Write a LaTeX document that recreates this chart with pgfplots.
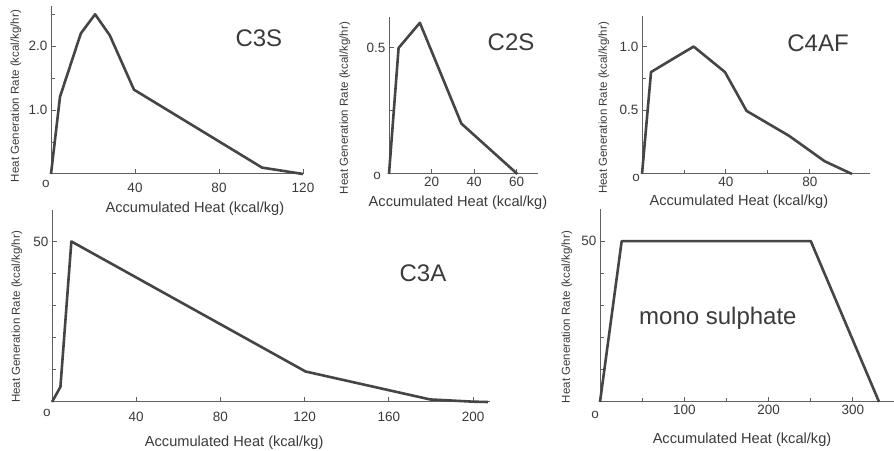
\documentclass[border=0pt]{standalone}
\usepackage{fontspec}
\setmainfont{Liberation Sans}
\usepackage{pgfplots}
\pgfplotsset{compat=1.18}
\definecolor{ink}{HTML}{454545}
\definecolor{axc}{HTML}{606060}
\definecolor{txt}{HTML}{3A3A3A}
\pgfplotsset{
 hgr/.style={
  scale only axis,
  axis x line=bottom, axis y line=left,
  axis line style={-, axc, line width=1bp},
  tick style={axc, line width=1bp},
  tick align=inside,
  major tick length=5bp, minor tick length=4bp,
  ymin=0, xmin=0,
  ticklabel style={font=\fontsize{13.5bp}{15bp}\selectfont, text=txt},
  /pgf/number format/assume math mode=true,
  xlabel={Accumulated Heat (kcal/kg)},
  ylabel={Heat Generation Rate (kcal/kg/hr)},
  label style={text=txt},
  xlabel style={font=\fontsize{14.6bp}{16bp}\selectfont, anchor=center},
  ylabel style={font=\fontsize{11.5bp}{13bp}\selectfont, anchor=center},
  clip=false,
 },
 curve/.style={ink, line width=2.6bp, line join=round, no marks},
}
\tikzset{
 ttl/.style={font=\fontsize{24bp}{26bp}\selectfont, text=txt},
 zro/.style={font=\fontsize{13.5bp}{15bp}\selectfont, text=txt},
}
\begin{document}
\begin{tikzpicture}[x=1bp,y=1bp]
\useasboundingbox (0,0) rectangle (894,451);
% C3S
\begin{axis}[hgr, at={(51bp,277bp)}, anchor=south west, width=252bp, height=168bp,
  xmax=120, ymax=2.63,
  xtick={40,80,120}, ytick={1,2}, minor ytick={0.5,1.5,2.5},
  yticklabel style={/pgf/number format/fixed, /pgf/number format/fixed zerofill, /pgf/number format/precision=1},
  xticklabel style={yshift=-6bp},
  xlabel style={at={(axis description cs:0.571,0)}, yshift=-35bp},
  ylabel style={at={(axis description cs:0,0.464)}, yshift=35bp}]
\addplot[curve] coordinates {(0,0) (4.3,1.21) (14.2,2.2) (21,2.5) (28,2.17) (39.5,1.32) (100.5,0.1) (120,0)};
\node[ttl] at (rel axis cs:0.825,0.81) {C3S};
\node[zro, xshift=-5bp, yshift=-10bp] at (rel axis cs:0,0) {o};
\end{axis}
% C2S
\begin{axis}[hgr, at={(389bp,277bp)}, anchor=south west, width=149bp, height=157bp,
  xmax=70, ymax=0.623,
  xtick={20,40,60}, ytick={0.5}, minor ytick={0.25},
  yticklabel style={/pgf/number format/fixed, /pgf/number format/fixed zerofill, /pgf/number format/precision=1},
  xlabel style={at={(axis description cs:0.463,0)}, yshift=-29bp},
  ylabel style={at={(axis description cs:0,0.42)}, yshift=44bp}]
\addplot[curve] coordinates {(0,0) (4.5,0.5) (14.5,0.6) (34,0.2) (60.3,0)};
\node[ttl] at (rel axis cs:0.819,0.84) {C2S};
\node[zro, xshift=-12bp, yshift=-2bp] at (rel axis cs:0,0) {o};
\end{axis}
% C4AF
\begin{axis}[hgr, at={(642bp,277bp)}, anchor=south west, width=228bp, height=158bp,
  xmax=108.6, ymax=1.24,
  xtick={40,80}, minor xtick={20,60}, ytick={0.5,1}, minor ytick={0.25,0.75},
  yticklabel style={/pgf/number format/fixed, /pgf/number format/fixed zerofill, /pgf/number format/precision=1},
  xlabel style={at={(axis description cs:0.425,0)}, yshift=-28bp},
  ylabel style={at={(axis description cs:0,0.418)}, yshift=38bp}]
\addplot[curve] coordinates {(0,0) (4.3,0.8) (15.4,0.91) (24.6,1.0) (39.5,0.8) (49.8,0.495) (70,0.3) (87,0.1) (100,0)};
\node[ttl] at (rel axis cs:0.772,0.829) {C4AF};
\node[zro, xshift=-6bp, yshift=-4bp] at (rel axis cs:0,0) {o};
\end{axis}
% C3A
\begin{axis}[hgr, at={(52bp,49bp)}, anchor=south west, width=438bp, height=192bp,
  xmax=208, ymax=59.8,
  xtick={40,80,120,160,200}, ytick={50}, minor ytick={10,20,30,40},
  xticklabel style={yshift=-7bp},
  xlabel style={at={(axis description cs:0.416,0)}, yshift=-41bp},
  ylabel style={at={(axis description cs:0,0.443)}, yshift=35bp}]
\addplot[curve] coordinates {(0,0) (4,4.7) (9.2,50) (120.4,9.5) (179.5,0.8) (200,0.1) (207,0)};
\node[ttl] at (rel axis cs:0.847,0.672) {C3A};
\node[zro, xshift=-5bp, yshift=-11bp] at (rel axis cs:0,0) {o};
\end{axis}
% mono sulphate
\begin{axis}[hgr, at={(600bp,49bp)}, anchor=south west, width=294bp, height=193bp,
  xmax=348.7, ymax=60,
  xtick={100,200,300}, minor xtick={50,150,250}, ytick={50}, minor ytick={10,20,30,40},
  xlabel style={at={(axis description cs:0.483,0)}, yshift=-38bp},
  ylabel style={at={(axis description cs:0,0.44)}, yshift=33bp}]
\addplot[curve] coordinates {(0,0) (25.7,50) (250,50) (331,0)};
\node[ttl] at (rel axis cs:0.401,0.435) {mono sulphate};
\node[zro, xshift=-5bp, yshift=-13bp] at (rel axis cs:0,0) {o};
\end{axis}
\end{tikzpicture}
\end{document}
